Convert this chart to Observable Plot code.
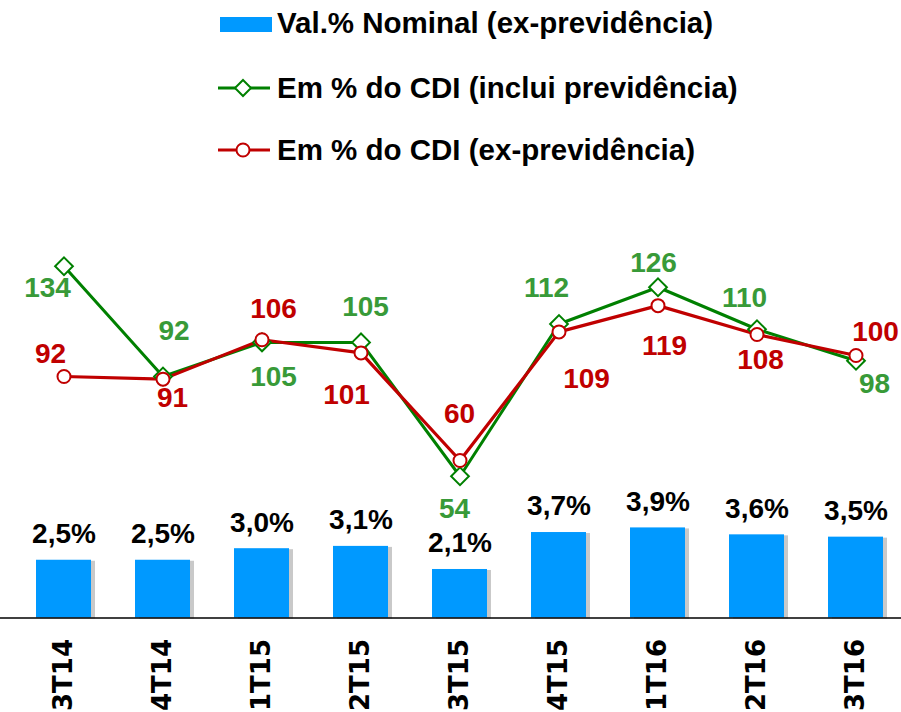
<!DOCTYPE html>
<html><head><meta charset="utf-8">
<script src="https://cdn.jsdelivr.net/npm/d3@7"></script>
<script src="https://cdn.jsdelivr.net/npm/@observablehq/plot@0.6"></script>
<style>
body{margin:0;background:#fff}
#chart{width:901px;position:relative}
svg{display:block}
</style>
</head><body><div id="chart"></div>
<script>
// ---- data ----
const quarters = ["3T14","4T14","1T15","2T15","3T15","4T15","1T16","2T16","3T16"];
const nominal = [2.5,2.5,3.0,3.1,2.1,3.7,3.9,3.6,3.5];
const nominalLabels = ["2,5%","2,5%","3,0%","3,1%","2,1%","3,7%","3,9%","3,6%","3,5%"];
const cdiInclPrev = [134,92,105,105,54,112,126,110,98];
const cdiExPrev = [92,91,106,101,60,109,119,108,100];
const seriesNames = ["Val.% Nominal (ex-previdência)","Em % do CDI (inclui previdência)","Em % do CDI (ex-previdência)"];

// ---- label placement (pixel nudges) ----
const greenNudge = [[-16.5,22],[11,-45],[11.5,35],[4.5,-35],[-5.5,33],[-12.5,-35.5],[-4.5,-24],[-12.5,-31],[18.5,23]];
const redNudge = [[-13.5,-22.5],[9.5,19],[11.5,-31],[-14.5,42],[-0.5,-46],[27.5,47.5],[6.5,40.5],[3.5,25.5],[19.5,-23]];

// ---- styles ----
const BLUE = "#0099FF", GREEN = "#008000", GREEN_TXT = "#389A38", RED = "#C00000";
const FONT = "'Liberation Sans', Arial, sans-serif";
const barFactor = 23.1 / 2.625; // ratio between the bar axis and the CDI axis

const rows = quarters.map((q, i) => ({q, nominal: nominal[i], nlab: nominalLabels[i], g: cdiInclPrev[i], r: cdiExPrev[i], i}));

// ---- legend ----
const chart = document.getElementById("chart");
const leg = d3.create("svg").attr("width", 901).attr("height", 190)
  .style("font-family", FONT).style("font-weight", "bold").style("font-size", "29.5px");
leg.append("rect").attr("x", 220).attr("y", 17).attr("width", 52).attr("height", 15).attr("fill", BLUE);
leg.append("text").attr("x", 277).attr("y", 33).text(seriesNames[0]);
leg.append("line").attr("x1", 218).attr("x2", 270).attr("y1", 88).attr("y2", 88).attr("stroke", GREEN).attr("stroke-width", 3);
leg.append("path").attr("d", "M243,80L251,88L243,96L235,88Z").attr("fill", "#fff").attr("stroke", GREEN).attr("stroke-width", 2);
leg.append("text").attr("x", 277).attr("y", 98).text(seriesNames[1]);
leg.append("line").attr("x1", 218).attr("x2", 270).attr("y1", 150).attr("y2", 150).attr("stroke", RED).attr("stroke-width", 3);
leg.append("circle").attr("cx", 243).attr("cy", 150).attr("r", 6.5).attr("fill", "#fff").attr("stroke", RED).attr("stroke-width", 2);
leg.append("text").attr("x", 277).attr("y", 160).text(seriesNames[2]);
chart.appendChild(leg.node());

// ---- plot ----
const labelMarks = [];
rows.forEach((d, i) => {
  labelMarks.push(Plot.text([d], {x: "q", y: "g", text: d => String(d.g), dx: greenNudge[i][0], dy: greenNudge[i][1],
    fill: GREEN_TXT, fontSize: 28, fontWeight: "bold", fontFamily: FONT}));
  labelMarks.push(Plot.text([d], {x: "q", y: "r", text: d => String(d.r), dx: redNudge[i][0], dy: redNudge[i][1],
    fill: RED, fontSize: 28, fontWeight: "bold", fontFamily: FONT}));
});

const plot = Plot.plot({
  width: 901, height: 522,
  marginLeft: 0, marginRight: 0, marginTop: 33.75, marginBottom: 94.5,
  style: {fontFamily: FONT, background: "#fff", overflow: "visible"},
  x: {type: "band", domain: quarters, paddingInner: 0.4444, paddingOuter: 0.2727, align: 0.6667, label: null},
  y: {domain: [0, 150], axis: null},
  marks: [
    Plot.barY(rows, {x: "q", y: d => d.nominal * barFactor, fill: "#777", fillOpacity: 0.4, dx: 4, dy: 1, ariaLabel: "shadow"}),
    Plot.barY(rows, {x: "q", y: d => d.nominal * barFactor, fill: BLUE}),
    Plot.text(rows, {x: "q", y: d => d.nominal * barFactor, text: "nlab", dy: -26, fill: "#000",
      fontSize: 28, fontWeight: "bold", fontFamily: FONT}),
    Plot.ruleY([0], {stroke: "#000", strokeWidth: 1.5}),
    Plot.line(rows, {x: "q", y: "g", stroke: GREEN, strokeWidth: 3}),
    Plot.line(rows, {x: "q", y: "r", stroke: RED, strokeWidth: 3.2}),
    Plot.dot(rows, {x: "q", y: "g", symbol: "diamond2", r: 8, fill: "#fff", stroke: GREEN, strokeWidth: 2}),
    Plot.dot(rows, {x: "q", y: "r", r: 6.5, fill: "#fff", stroke: RED, strokeWidth: 2}),
    ...labelMarks,
    Plot.axisX({tickRotate: -90, tickSize: 0, tickPadding: 21, fontSize: 26, fontWeight: "bold",
      fontFamily: "'DejaVu Sans', sans-serif", fill: "#000", label: null})
  ]
});
const ps = d3.select(plot);
ps.append("defs").append("filter").attr("id", "blurShadow").attr("x", "-50%").attr("width", "200%")
  .append("feGaussianBlur").attr("stdDeviation", 2);
ps.select('g[aria-label="shadow"]').attr("filter", "url(#blurShadow)");
chart.appendChild(plot);
</script>
</body></html>
